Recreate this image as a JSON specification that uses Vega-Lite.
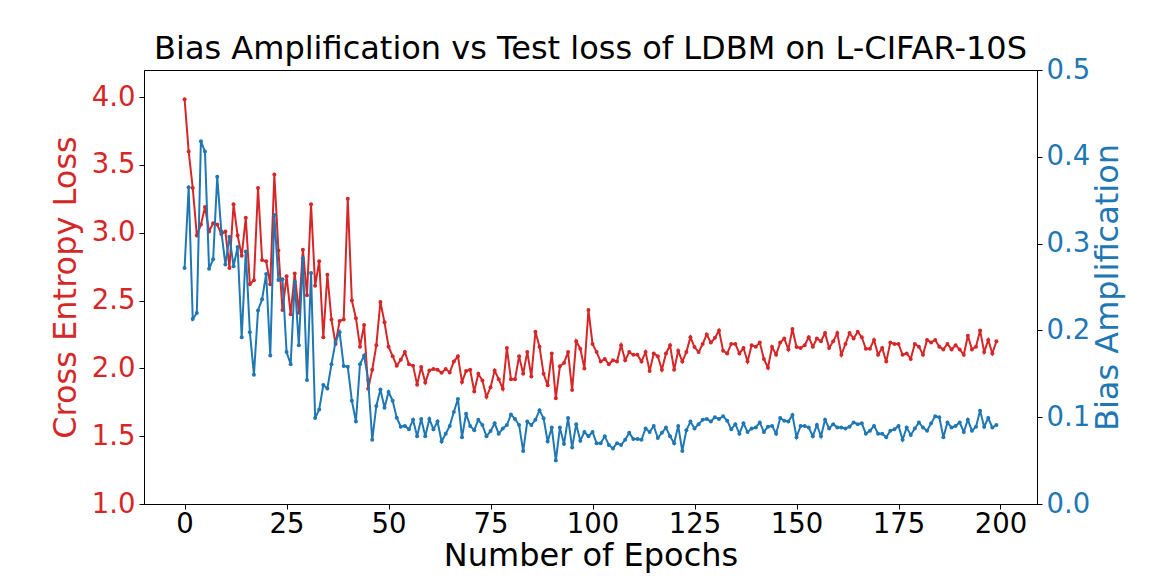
{
  "$schema": "https://vega.github.io/schema/vega-lite/v6.json",
  "width": 893,
  "height": 434,
  "autosize": {"type": "none"},
  "padding": {"left": 144, "top": 70, "right": 115, "bottom": 72},
  "background": "white",
  "config": {"view": {"stroke": "black", "strokeWidth": 1}, "font": "DejaVu Sans"},
  "title": {"text": "Bias Amplification vs Test loss of LDBM on L-CIFAR-10S", "fontSize": 32, "font": "DejaVu Sans", "fontWeight": "normal", "color": "black", "anchor": "middle", "baseline": "alphabetic", "offset": 9, "dy": 44},
  "data": {"values": [
{"e":0,"loss":3.985,"bias":0.272},{"e":1,"loss":3.60,"bias":0.365},{"e":2,"loss":3.33,"bias":0.213},{"e":3,"loss":2.98,"bias":0.22},{"e":4,"loss":3.06,"bias":0.418},
{"e":5,"loss":3.19,"bias":0.406},{"e":6,"loss":3.01,"bias":0.271},{"e":7,"loss":3.07,"bias":0.282},{"e":8,"loss":3.06,"bias":0.377},{"e":9,"loss":2.99,"bias":0.314},
{"e":10,"loss":3.01,"bias":0.276},{"e":11,"loss":2.74,"bias":0.308},{"e":12,"loss":3.21,"bias":0.274},{"e":13,"loss":2.98,"bias":0.296},{"e":14,"loss":2.83,"bias":0.192},
{"e":15,"loss":3.11,"bias":0.291},{"e":16,"loss":2.62,"bias":0.198},{"e":17,"loss":2.65,"bias":0.149},{"e":18,"loss":3.33,"bias":0.223},{"e":19,"loss":2.80,"bias":0.236},
{"e":20,"loss":2.79,"bias":0.265},{"e":21,"loss":2.62,"bias":0.171},{"e":22,"loss":3.43,"bias":0.333},{"e":23,"loss":2.87,"bias":0.258},{"e":24,"loss":2.43,"bias":0.259},
{"e":25,"loss":2.68,"bias":0.175},{"e":26,"loss":2.40,"bias":0.161},{"e":27,"loss":2.70,"bias":0.256},{"e":28,"loss":2.41,"bias":0.183},{"e":29,"loss":2.875,"bias":0.283},
{"e":30,"loss":2.54,"bias":0.143},{"e":31,"loss":3.21,"bias":0.266},{"e":32,"loss":2.61,"bias":0.099},{"e":33,"loss":2.79,"bias":0.109},{"e":34,"loss":2.23,"bias":0.137},
{"e":35,"loss":2.69,"bias":0.133},{"e":36,"loss":2.36,"bias":0.161},{"e":37,"loss":2.18,"bias":0.187},{"e":38,"loss":2.35,"bias":0.198},{"e":39,"loss":2.36,"bias":0.159},
{"e":40,"loss":3.25,"bias":0.158},{"e":41,"loss":2.50,"bias":0.119},{"e":42,"loss":2.37,"bias":0.095},{"e":43,"loss":2.16,"bias":0.161},{"e":44,"loss":2.32,"bias":0.171},
{"e":45,"loss":1.85,"bias":0.143},{"e":46,"loss":1.99,"bias":0.074},{"e":47,"loss":2.17,"bias":0.113},{"e":48,"loss":2.49,"bias":0.132},{"e":49,"loss":2.34,"bias":0.111},
{"e":50,"loss":2.16,"bias":0.129},{"e":51,"loss":2.09,"bias":0.119},{"e":52,"loss":2.02,"bias":0.0995},{"e":53,"loss":2.064,"bias":0.089},{"e":54,"loss":2.12,"bias":0.090},
{"e":55,"loss":2.03,"bias":0.086},{"e":56,"loss":2.02,"bias":0.097},{"e":57,"loss":1.88,"bias":0.078},{"e":58,"loss":2.01,"bias":0.098},{"e":59,"loss":1.895,"bias":0.078},
{"e":60,"loss":1.985,"bias":0.098},{"e":61,"loss":1.995,"bias":0.086},{"e":62,"loss":1.99,"bias":0.095},{"e":63,"loss":1.968,"bias":0.072},{"e":64,"loss":1.995,"bias":0.081},
{"e":65,"loss":1.97,"bias":0.090},{"e":66,"loss":2.05,"bias":0.106},{"e":67,"loss":2.09,"bias":0.121},{"e":68,"loss":1.90,"bias":0.077},{"e":69,"loss":1.98,"bias":0.104},
{"e":70,"loss":1.99,"bias":0.090},{"e":71,"loss":1.83,"bias":0.085},{"e":72,"loss":1.96,"bias":0.097},{"e":73,"loss":1.91,"bias":0.091},{"e":74,"loss":1.79,"bias":0.078},
{"e":75,"loss":1.86,"bias":0.084},{"e":76,"loss":1.985,"bias":0.093},{"e":77,"loss":1.92,"bias":0.081},{"e":78,"loss":1.85,"bias":0.087},{"e":79,"loss":2.15,"bias":0.091},
{"e":80,"loss":1.92,"bias":0.103},{"e":81,"loss":1.92,"bias":0.098},{"e":82,"loss":2.09,"bias":0.091},{"e":83,"loss":1.96,"bias":0.061},{"e":84,"loss":2.12,"bias":0.095},
{"e":85,"loss":1.94,"bias":0.091},{"e":86,"loss":2.27,"bias":0.097},{"e":87,"loss":2.16,"bias":0.108},{"e":88,"loss":1.96,"bias":0.0987},{"e":89,"loss":1.875,"bias":0.072},
{"e":90,"loss":2.11,"bias":0.088},{"e":91,"loss":1.78,"bias":0.050},{"e":92,"loss":2.015,"bias":0.088},{"e":93,"loss":2.04,"bias":0.069},{"e":94,"loss":2.12,"bias":0.099},
{"e":95,"loss":1.84,"bias":0.065},{"e":96,"loss":2.20,"bias":0.092},{"e":97,"loss":2.145,"bias":0.073},{"e":98,"loss":2.00,"bias":0.083},{"e":99,"loss":2.43,"bias":0.078},
{"e":100,"loss":2.18,"bias":0.083},{"e":101,"loss":2.12,"bias":0.070},{"e":102,"loss":2.05,"bias":0.070},{"e":103,"loss":2.07,"bias":0.078},{"e":104,"loss":2.03,"bias":0.068},
{"e":105,"loss":2.06,"bias":0.064},{"e":106,"loss":2.05,"bias":0.070},{"e":107,"loss":2.17,"bias":0.068},{"e":108,"loss":2.06,"bias":0.074},{"e":109,"loss":2.12,"bias":0.082},
{"e":110,"loss":2.10,"bias":0.075},{"e":111,"loss":2.10,"bias":0.075},{"e":112,"loss":2.05,"bias":0.074},{"e":113,"loss":2.12,"bias":0.087},{"e":114,"loss":1.98,"bias":0.083},
{"e":115,"loss":2.11,"bias":0.090},{"e":116,"loss":2.09,"bias":0.076},{"e":117,"loss":1.99,"bias":0.082},{"e":118,"loss":2.11,"bias":0.088},{"e":119,"loss":2.17,"bias":0.078},
{"e":120,"loss":1.99,"bias":0.070},{"e":121,"loss":2.13,"bias":0.090},{"e":122,"loss":2.05,"bias":0.061},{"e":123,"loss":2.12,"bias":0.085},{"e":124,"loss":2.23,"bias":0.095},
{"e":125,"loss":2.157,"bias":0.087},{"e":126,"loss":2.12,"bias":0.092},{"e":127,"loss":2.18,"bias":0.097},{"e":128,"loss":2.25,"bias":0.098},{"e":129,"loss":2.19,"bias":0.095},
{"e":130,"loss":2.225,"bias":0.100},{"e":131,"loss":2.28,"bias":0.098},{"e":132,"loss":2.13,"bias":0.101},{"e":133,"loss":2.11,"bias":0.096},{"e":134,"loss":2.18,"bias":0.086},
{"e":135,"loss":2.18,"bias":0.092},{"e":136,"loss":2.11,"bias":0.081},{"e":137,"loss":2.15,"bias":0.093},{"e":138,"loss":2.05,"bias":0.083},{"e":139,"loss":2.17,"bias":0.087},
{"e":140,"loss":2.16,"bias":0.088},{"e":141,"loss":2.19,"bias":0.094},{"e":142,"loss":2.07,"bias":0.083},{"e":143,"loss":2.005,"bias":0.089},{"e":144,"loss":2.157,"bias":0.090},
{"e":145,"loss":2.10,"bias":0.081},{"e":146,"loss":2.19,"bias":0.099},{"e":147,"loss":2.22,"bias":0.096},{"e":148,"loss":2.14,"bias":0.095},{"e":149,"loss":2.29,"bias":0.1025},
{"e":150,"loss":2.157,"bias":0.077},{"e":151,"loss":2.15,"bias":0.090},{"e":152,"loss":2.17,"bias":0.090},{"e":153,"loss":2.23,"bias":0.088},{"e":154,"loss":2.16,"bias":0.078},
{"e":155,"loss":2.22,"bias":0.091},{"e":156,"loss":2.20,"bias":0.078},{"e":157,"loss":2.26,"bias":0.097},{"e":158,"loss":2.15,"bias":0.087},{"e":159,"loss":2.20,"bias":0.092},
{"e":160,"loss":2.26,"bias":0.088},{"e":161,"loss":2.10,"bias":0.088},{"e":162,"loss":2.18,"bias":0.087},{"e":163,"loss":2.26,"bias":0.089},{"e":164,"loss":2.22,"bias":0.094},
{"e":165,"loss":2.27,"bias":0.092},{"e":166,"loss":2.23,"bias":0.093},{"e":167,"loss":2.145,"bias":0.081},{"e":168,"loss":2.145,"bias":0.0845},{"e":169,"loss":2.21,"bias":0.090},
{"e":170,"loss":2.10,"bias":0.081},{"e":171,"loss":2.15,"bias":0.081},{"e":172,"loss":2.05,"bias":0.077},{"e":173,"loss":2.19,"bias":0.0845},{"e":174,"loss":2.18,"bias":0.086},
{"e":175,"loss":2.18,"bias":0.090},{"e":176,"loss":2.10,"bias":0.074},{"e":177,"loss":2.11,"bias":0.088},{"e":178,"loss":2.07,"bias":0.0795},{"e":179,"loss":2.18,"bias":0.087},
{"e":180,"loss":2.16,"bias":0.094},{"e":181,"loss":2.10,"bias":0.088},{"e":182,"loss":2.21,"bias":0.0845},{"e":183,"loss":2.19,"bias":0.093},{"e":184,"loss":2.21,"bias":0.101},
{"e":185,"loss":2.16,"bias":0.100},{"e":186,"loss":2.14,"bias":0.077},{"e":187,"loss":2.18,"bias":0.094},{"e":188,"loss":2.14,"bias":0.088},{"e":189,"loss":2.17,"bias":0.090},
{"e":190,"loss":2.14,"bias":0.094},{"e":191,"loss":2.10,"bias":0.083},{"e":192,"loss":2.24,"bias":0.097},{"e":193,"loss":2.14,"bias":0.0845},{"e":194,"loss":2.16,"bias":0.089},
{"e":195,"loss":2.28,"bias":0.1075},{"e":196,"loss":2.12,"bias":0.089},{"e":197,"loss":2.21,"bias":0.099},{"e":198,"loss":2.11,"bias":0.088},{"e":199,"loss":2.20,"bias":0.091}
  ]},
  "encoding": {
    "x": {"field": "e", "type": "quantitative",
      "scale": {"domain": [-9.95, 208.95], "nice": false, "zero": false},
      "axis": {"values": [0, 25, 50, 75, 100, 125, 150, 175, 200], "grid": false, "title": "Number of Epochs",
        "titleFontSize": 32, "titleFontWeight": "normal", "titleColor": "black", "titlePadding": 3,
        "labelFontSize": 27.5, "labelColor": "black", "labelPadding": 1, "tickSize": 5, "tickColor": "black",
        "domainColor": "black", "labelFlush": false}}
  },
  "layer": [
    {"mark": {"type": "line", "color": "#d62728", "strokeWidth": 2, "point": {"filled": true, "size": 16, "color": "#d62728"}},
     "encoding": {"y": {"field": "loss", "type": "quantitative",
       "scale": {"domain": [1.0, 4.2], "nice": false, "zero": false},
       "axis": {"values": [1.0, 1.5, 2.0, 2.5, 3.0, 3.5, 4.0], "format": ".1f", "grid": false, "title": "Cross Entropy Loss",
         "titleFontSize": 32, "titleFontWeight": "normal", "titleColor": "#d62728", "titlePadding": 9,
         "labelFontSize": 27.5, "labelColor": "#d62728", "labelPadding": 4, "tickSize": 5, "tickColor": "black",
         "domainColor": "black", "labelFlush": false}}}},
    {"mark": {"type": "line", "color": "#1f77b4", "strokeWidth": 2, "point": {"filled": true, "size": 16, "color": "#1f77b4"}},
     "encoding": {"y": {"field": "bias", "type": "quantitative",
       "scale": {"domain": [0, 0.5], "nice": false, "zero": false},
       "axis": {"orient": "right", "values": [0, 0.1, 0.2, 0.3, 0.4, 0.5], "format": ".1f", "grid": false, "title": "Bias Amplification",
         "titleFontSize": 32, "titleFontWeight": "normal", "titleColor": "#1f77b4", "titlePadding": 3, "titleAngle": 270, "titleBaseline": "top",
         "labelFontSize": 27.5, "labelColor": "#1f77b4", "labelPadding": 4, "tickSize": 5, "tickColor": "black",
         "domainColor": "black", "labelFlush": false}}}}
  ],
  "resolve": {"scale": {"y": "independent"}}
}
